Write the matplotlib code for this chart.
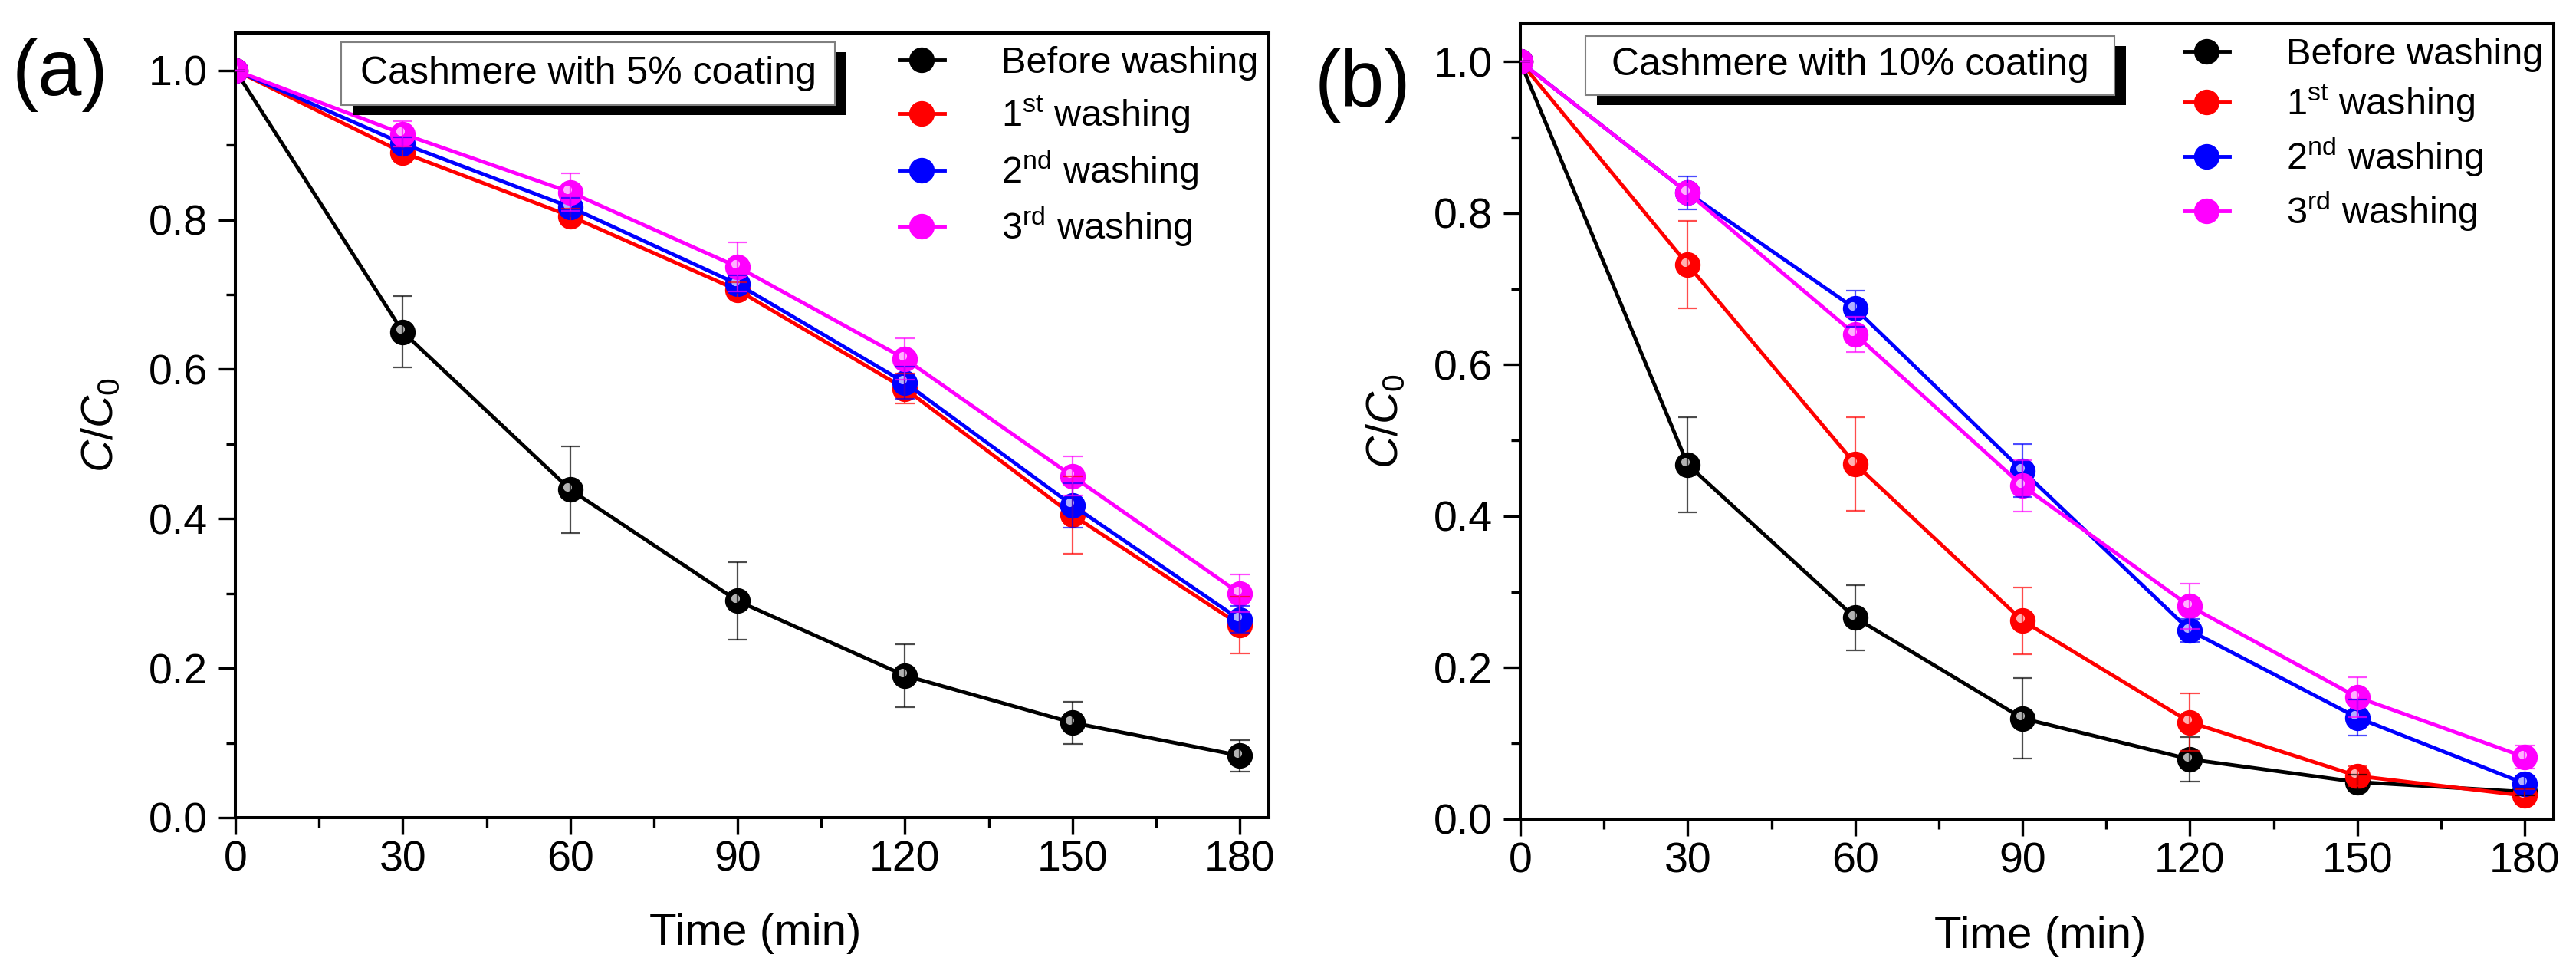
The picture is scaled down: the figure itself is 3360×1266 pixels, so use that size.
import numpy as np
import matplotlib.pyplot as plt
from matplotlib import transforms
from matplotlib.patches import Rectangle
from matplotlib.legend_handler import HandlerTuple
from matplotlib.ticker import MultipleLocator

plt.rcParams['font.family'] = ['Liberation Sans', 'DejaVu Sans']
plt.rcParams['mathtext.fontset'] = 'custom'
plt.rcParams['mathtext.rm'] = 'Liberation Sans'
plt.rcParams['mathtext.it'] = 'Liberation Sans:italic'

# time points (min)
time = [0, 30, 60, 90, 120, 150, 180]
labels = ['Before washing', r'1$^{\mathrm{st}}$ washing',
          r'2$^{\mathrm{nd}}$ washing', r'3$^{\mathrm{rd}}$ washing']
colors = ['#000000', '#ff0000', '#0000ff', '#ff00ff']

# (a) 5% coating
a_before = [1.0, 0.650, 0.439, 0.290, 0.190, 0.127, 0.083]
a_before_err = [0, 0.048, 0.058, 0.052, 0.042, 0.028, 0.021]
a_wash1 = [1.0, 0.890, 0.805, 0.706, 0.574, 0.405, 0.258]
a_wash1_err = [0, 0.008, 0.010, 0.010, 0.020, 0.052, 0.038]
a_wash2 = [1.0, 0.902, 0.817, 0.714, 0.582, 0.418, 0.265]
a_wash2_err = [0, 0.008, 0.012, 0.012, 0.022, 0.030, 0.018]
a_wash3 = [1.0, 0.915, 0.837, 0.737, 0.614, 0.457, 0.300]
a_wash3_err = [0, 0.017, 0.025, 0.033, 0.028, 0.026, 0.025]

# (b) 10% coating
b_before = [1.0, 0.468, 0.266, 0.133, 0.079, 0.049, 0.036]
b_before_err = [0, 0.063, 0.043, 0.053, 0.029, 0.010, 0.005]
b_wash1 = [1.0, 0.732, 0.469, 0.262, 0.128, 0.057, 0.031]
b_wash1_err = [0, 0.058, 0.062, 0.044, 0.038, 0.013, 0.008]
b_wash2 = [1.0, 0.827, 0.674, 0.460, 0.249, 0.134, 0.047]
b_wash2_err = [0, 0.022, 0.024, 0.035, 0.015, 0.024, 0.010]
b_wash3 = [1.0, 0.827, 0.640, 0.440, 0.281, 0.161, 0.082]
b_wash3_err = [0, 0.012, 0.023, 0.034, 0.030, 0.026, 0.015]

W, H = 3360, 1266
fig = plt.figure(figsize=(W / 100, H / 100), dpi=100)


def px_box(x0, y0, x1, y1):
    # pixel box (top-left origin) -> figure fraction rect
    return [x0 / W, 1 - y1 / H, (x1 - x0) / W, (y1 - y0) / H]


def _rect(x0, y0, x1, y1):
    r = px_box(x0, y0, x1, y1)
    return (r[0], r[1]), r[2], r[3]


def panel(rect, series, errs, tag, tag_xy, note, box, leg_y, leg_sp):
    ax = fig.add_axes(px_box(*rect))
    hl = transforms.offset_copy(ax.transData, fig=fig, x=-2.5, y=2.5, units='points')
    handles = []
    for vals, err, c in zip(series, errs, colors):
        line, = ax.plot(time, vals, '-o', color=c, lw=3.5, ms=23, mec=c, zorder=2)
        shine, = ax.plot(time, vals, 'o', ls='none', ms=8, mfc='white', mec='none',
                         alpha=0.7, transform=hl, zorder=2)
        ax.errorbar(time, vals, yerr=err, fmt='none', ecolor=c, elinewidth=1.6,
                    capsize=9, capthick=1.6, alpha=0.7, zorder=3)
        handles.append((line, shine))

    ax.set_xlim(0, 185.2)
    ax.set_ylim(0, 1.05)
    ax.xaxis.set_major_locator(MultipleLocator(30))
    ax.xaxis.set_minor_locator(MultipleLocator(15))
    ax.yaxis.set_major_locator(MultipleLocator(0.2))
    ax.yaxis.set_minor_locator(MultipleLocator(0.1))
    ax.yaxis.set_major_formatter(lambda v, p: f'{v:.1f}')
    ax.tick_params(which='both', direction='out', width=2.4, labelsize=40)
    ax.tick_params(which='major', length=16)
    ax.tick_params(which='minor', length=9)
    ax.tick_params(axis='x', pad=5)
    ax.tick_params(axis='y', pad=10)
    for s in ax.spines.values():
        s.set_linewidth(2.9)

    ax.set_xlabel('Time (min)', fontsize=42)
    ax.set_ylabel(r'$\mathit{C/C_0}$', fontsize=42)
    ax.xaxis.label.set_va('center')
    ax.yaxis.label.set_va('center')
    ax.xaxis.set_label_coords(0.503, -0.148)
    ax.yaxis.set_label_coords(-0.13, 0.5)

    ax.legend(handles, labels, handler_map={tuple: HandlerTuple(ndivide=None)},
              loc='upper right', bbox_to_anchor=(0.99, leg_y), frameon=False,
              fontsize=35, handlelength=2.45, handletextpad=0.3,
              labelspacing=leg_sp, borderpad=0, borderaxespad=0)

    fig.text(tag_xy[0] / W, 1 - tag_xy[1] / H, tag, fontsize=74,
             ha='center', va='center')

    bx0, by0, bx1, by1 = box
    fig.patches.append(Rectangle(*_rect(bx0 + 15, by0 + 13, bx1 + 15, by1 + 13),
                                 transform=fig.transFigure, facecolor='black',
                                 edgecolor='none', zorder=5))
    fig.patches.append(Rectangle(*_rect(bx0, by0, bx1, by1),
                                 transform=fig.transFigure, facecolor='white',
                                 edgecolor='#808080', lw=1.5, zorder=6))
    fig.text((bx0 + bx1) / 2 / W, 1 - (by0 + by1) / 2 / H, note, fontsize=36,
             ha='center', va='center', zorder=7)
    return ax


panel((307, 43, 1655, 1066),
      [a_before, a_wash1, a_wash2, a_wash3],
      [a_before_err, a_wash1_err, a_wash2_err, a_wash3_err],
      '(a)', (78, 97), 'Cashmere with 5% coating', (445, 55, 1089, 137),
      0.983, 0.35)
panel((1983, 31, 3331, 1068),
      [b_before, b_wash1, b_wash2, b_wash3],
      [b_before_err, b_wash1_err, b_wash2_err, b_wash3_err],
      '(b)', (1777, 112), 'Cashmere with 10% coating', (2068, 47, 2758, 124),
      0.983, 0.29)

fig.savefig('out.png', dpi=100)
